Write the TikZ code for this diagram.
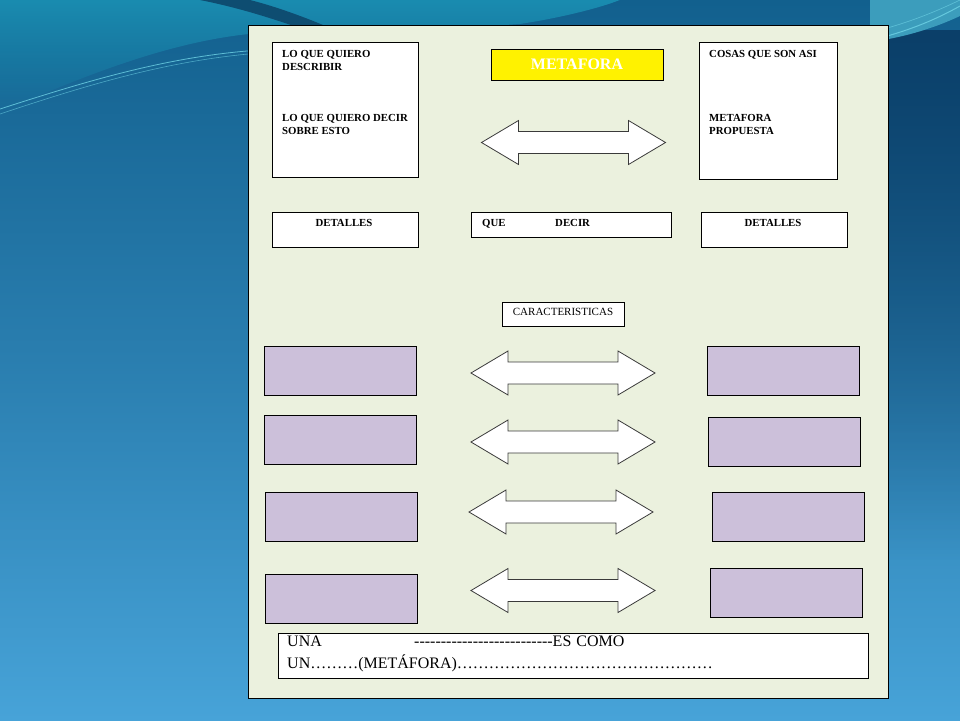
\documentclass[tikz,border=0pt]{standalone}
\usepackage{fontspec}
\setmainfont{Liberation Serif}
\usetikzlibrary{fadings}
\definecolor{panel}{HTML}{EBF1DE}
\definecolor{lilac}{HTML}{CCC0DA}
\definecolor{bgtop}{HTML}{12608E}
\definecolor{bgbot}{HTML}{47A3D8}
\definecolor{teal}{HTML}{1A8CB0}
\definecolor{navy}{HTML}{0B3F69}
\definecolor{streak}{HTML}{6FD3E6}
\definecolor{arrowedge}{HTML}{3A3A3A}
\tikzfading[name=fadedown, top color=transparent!0, bottom color=transparent!100]
\tikzset{
  box/.style={draw=black, line width=0.9pt, inner sep=0pt, fill=white},
  purplebox/.style={box, fill=lilac, minimum width=152, minimum height=49},
  arrowshape/.style={draw=arrowedge, line width=0.8pt, fill=white, line join=miter},
  pics/dblarrow/.style={code={
    \path[arrowshape] (-92,0) -- (-55,-22) -- (-55,-11) -- (55,-11) -- (55,-22)
      -- (92,0) -- (55,22) -- (55,11) -- (-55,11) -- (-55,22) -- cycle;}},
  btxt/.style={inner sep=0pt, anchor=base west, font=\bfseries\fontsize{10.8}{12}\selectfont},
  ctxt/.style={inner sep=0pt, anchor=base, font=\bfseries\fontsize{10.8}{12}\selectfont},
  rtxt/.style={inner sep=0pt, anchor=base west, font=\fontsize{16}{18}\selectfont},
}
\begin{document}
\begin{tikzpicture}[x=1pt,y=-1pt]
\useasboundingbox (0,0) rectangle (960,720);
% background
\shade[top color=bgtop, bottom color=bgbot, middle color=bgtop!55!bgbot] (0,0) rectangle (960,720);
\fill[navy, path fading=fadedown] (860,30) rectangle (960,560);
\fill[teal, path fading=fadedown] (0,0) -- (0,112) .. controls (80,78) and (170,40) .. (260,33)
  .. controls (360,27) and (440,30) .. (520,24) .. controls (560,18) and (600,8) .. (620,0) -- cycle;
\fill[bgtop!80!black] (200,0) .. controls (240,8) and (270,18) .. (300,28) -- (330,28)
  .. controls (300,15) and (270,5) .. (250,0) -- cycle;
\draw[streak, line width=0.8pt, opacity=0.8] (0,109) .. controls (90,80) and (170,56) .. (260,50);
\draw[streak, line width=0.6pt, opacity=0.6] (0,114) .. controls (90,84) and (170,60) .. (260,53);
\fill[teal!85!white] (870,0) -- (870,42) .. controls (900,38) and (930,30) .. (960,16) -- (960,0) -- cycle;
\draw[streak, line width=1pt, opacity=0.8] (880,38) .. controls (910,30) and (935,20) .. (960,6);
\draw[streak, line width=0.7pt, opacity=0.6] (880,30) .. controls (910,22) and (935,12) .. (960,0);
% panel
\node[draw=black, line width=0.9pt, fill=panel, inner sep=0pt, minimum width=640, minimum height=673] (panel) at (568,361.5) {};
% top boxes
\node[box, minimum width=146, minimum height=135] (tl) at (345,109.5) {};
\node[box, fill=yellow, minimum width=172, minimum height=31] (meta) at (577,64.5) {};
\node[box, minimum width=138, minimum height=137] (tr) at (768,110.5) {};
\node[btxt] (tl1) at (282,57) {LO QUE QUIERO};
\node[btxt] (tl2) at (282,70) {DESCRIBIR};
\node[btxt] (tl3) at (282,121) {LO QUE QUIERO DECIR};
\node[btxt] (tl4) at (282,134) {SOBRE ESTO};
\node[inner sep=0pt, anchor=base, text=white, font=\bfseries\fontsize{16}{18}\selectfont] (metat) at (577,69) {METAFORA};
\node[btxt] (tr1) at (709,57) {COSAS QUE SON ASI};
\node[btxt] (tr2) at (709,121) {METAFORA};
\node[btxt] (tr3) at (709,134) {PROPUESTA};
\pic (a0) at (573.5,142.5) {dblarrow};
% second row
\node[box, minimum width=146, minimum height=35] (detL) at (345,229.5) {};
\node[box, minimum width=200, minimum height=25] (que) at (571,224.5) {};
\node[box, minimum width=146, minimum height=35] (detR) at (774,229.5) {};
\node[ctxt] (detLt) at (344,226) {DETALLES};
\node[btxt] (quet) at (482,226) {QUE};
\node[btxt] (decirt) at (555,226) {DECIR};
\node[ctxt] (detRt) at (773,226) {DETALLES};
% caracteristicas
\node[box, minimum width=122, minimum height=24] (car) at (563,314) {};
\node[inner sep=0pt, anchor=base, font=\fontsize{11}{13}\selectfont] (cart) at (563,315.5) {CARACTERISTICAS};
% purple rows
\node[purplebox] (L1) at (340,370.5) {};
\node[purplebox] (L2) at (340,439.5) {};
\node[purplebox] (L3) at (341,516.5) {};
\node[purplebox] (L4) at (341,598.5) {};
\node[purplebox] (R1) at (783,370.5) {};
\node[purplebox] (R2) at (784,441.5) {};
\node[purplebox] (R3) at (788,516.5) {};
\node[purplebox] (R4) at (786,592.5) {};
\pic (a1) at (563,373) {dblarrow};
\pic (a2) at (563,442) {dblarrow};
\pic (a3) at (561,512) {dblarrow};
\pic (a4) at (563,590.5) {dblarrow};
% bottom sentence
\node[box, minimum width=590, minimum height=45] (bottom) at (573,655.5) {};
\node[rtxt] (una) at (287,646.5) {UNA};
\node[rtxt] (dashes) at (414,646.5) {\foreach \i in {1,...,26}{-\kern0pt}ES\hspace{5pt}COMO};
\node[rtxt] (un) at (287,668) {UN………(METÁFORA)…………………………………………};
\end{tikzpicture}
\end{document}
